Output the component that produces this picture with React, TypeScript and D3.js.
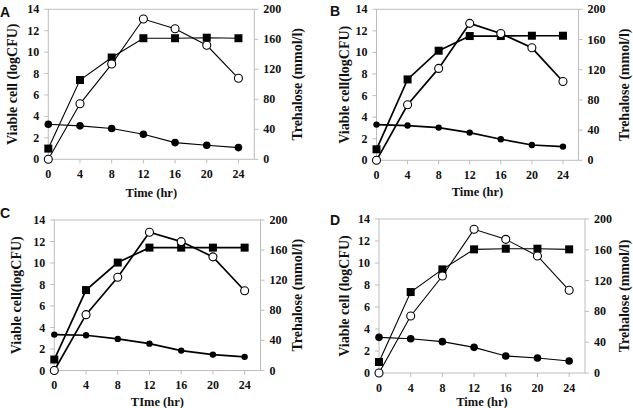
import React from "react";
import * as d3 from "d3";

// Sampling times (hr)
const hours = [0, 4, 8, 12, 16, 20, 24];
const xTicks = [0, 4, 8, 12, 16, 20, 24];
const leftTicks = [0, 2, 4, 6, 8, 10, 12, 14];
const rightTicks = [0, 40, 80, 120, 160, 200];

// Panel A
const viableA = [1.0, 7.4, 9.5, 11.3, 11.3, 11.35, 11.3];
const trehaloseA = [0, 74, 127, 187, 174, 152, 108];
const secondA = [3.27, 3.12, 2.87, 2.34, 1.56, 1.31, 1.09];

// Panel B
const viableB = [1.02, 7.5, 10.16, 11.52, 11.52, 11.55, 11.55];
const trehaloseB = [0, 73.5, 121.7, 181.4, 168, 149, 104.4];
const secondB = [3.31, 3.22, 3.03, 2.57, 1.95, 1.42, 1.27];

// Panel C
const viableC = [1.02, 7.48, 10.04, 11.43, 11.43, 11.43, 11.43];
const trehaloseC = [0, 74.2, 124, 183.7, 171.3, 151, 106];
const secondC = [3.34, 3.28, 2.94, 2.5, 1.85, 1.48, 1.27];

// Panel D
const viableD = [1.0, 7.36, 9.42, 11.24, 11.3, 11.3, 11.24];
const trehaloseD = [0, 74, 126, 186.6, 173.6, 152, 107.4];
const secondD = [3.24, 3.12, 2.85, 2.33, 1.55, 1.36, 1.09];

type PanelDef = {
  letter: string;
  box: { left: number; right: number; top: number; bottom: number };
  letterPos: [number, number];
  leftTitle: string;
  leftTitleX: number;
  rightTitleX: number;
  xTitle: string;
  xTitleY: number;
  viable: number[];
  trehalose: number[];
  second: number[];
  lineWidth: number;
  dot: number;
};

const panels: PanelDef[] = [
  {
    letter: "A",
    box: { left: 48.3, right: 254.3, top: 9.3, bottom: 159.3 },
    letterPos: [0, 17],
    leftTitle: "Viable cell (logCFU)",
    leftTitleX: 17,
    rightTitleX: 302,
    xTitle: "Time (hr)",
    xTitleY: 197,
    viable: viableA,
    trehalose: trehaloseA,
    second: secondA,
    lineWidth: 1.1,
    dot: 3.8,
  },
  {
    letter: "B",
    box: { left: 376.5, right: 578.5, top: 9.3, bottom: 160.3 },
    letterPos: [330, 16],
    leftTitle: "Viable cell(logCFU)",
    leftTitleX: 349,
    rightTitleX: 629,
    xTitle: "Time (hr)",
    xTitleY: 196,
    viable: viableB,
    trehalose: trehaloseB,
    second: secondB,
    lineWidth: 1.7,
    dot: 3.2,
  },
  {
    letter: "C",
    box: { left: 54.3, right: 260.5, top: 220, bottom: 370.5 },
    letterPos: [0, 218],
    leftTitle: "Viable cell(logCFU)",
    leftTitleX: 21,
    rightTitleX: 302,
    xTitle: "TIme (hr)",
    xTitleY: 406,
    viable: viableC,
    trehalose: trehaloseC,
    second: secondC,
    lineWidth: 1.7,
    dot: 3.2,
  },
  {
    letter: "D",
    box: { left: 379, right: 585, top: 219, bottom: 373 },
    letterPos: [330, 225],
    leftTitle: "Viable cell (logCFU)",
    leftTitleX: 349,
    rightTitleX: 629,
    xTitle: "Time (hr)",
    xTitleY: 406,
    viable: viableD,
    trehalose: trehaloseD,
    second: secondD,
    lineWidth: 1.1,
    dot: 3.8,
  },
];

const serifStyle = { fontFamily: "Liberation Serif, Times New Roman, Times, DejaVu Serif, serif" };
const sansStyle = { fontFamily: "Liberation Sans, Arial, Helvetica, sans-serif" };
const axisGrey = "#bdbdbd";

function Panel({ p }: { p: PanelDef }) {
  const { left, right, top, bottom } = p.box;
  const x = d3.scaleLinear().domain([0, 26]).range([left, right]);
  const yL = d3.scaleLinear().domain([0, 14]).range([bottom, top]);
  const yR = d3.scaleLinear().domain([0, 200]).range([bottom, top]);

  const lineL = d3
    .line<number>()
    .x((_, i) => x(hours[i]))
    .y((v) => yL(v));
  const lineR = d3
    .line<number>()
    .x((_, i) => x(hours[i]))
    .y((v) => yR(v));

  const midY = (top + bottom) / 2;
  const sq = 8;

  return (
    <g>
      {/* plot frame */}
      <rect
        x={left}
        y={top}
        width={right - left}
        height={bottom - top}
        fill="none"
        stroke={axisGrey}
        strokeWidth={1}
      />
      {/* x ticks */}
      {xTicks.map((t) => (
        <g key={"x" + t}>
          <line x1={x(t)} x2={x(t)} y1={bottom} y2={bottom + 4} stroke={axisGrey} />
          <text
            x={x(t)}
            y={bottom + 18.5}
            textAnchor="middle"
            style={serifStyle}
            fontWeight="bold"
            fontSize={12}
            fill="#111"
          >
            {t}
          </text>
        </g>
      ))}
      {/* left ticks */}
      {leftTicks.map((t) => (
        <g key={"l" + t}>
          <line x1={left - 4} x2={left} y1={yL(t)} y2={yL(t)} stroke={axisGrey} />
          <text
            x={left - 9}
            y={yL(t) + 4}
            textAnchor="end"
            style={serifStyle}
            fontWeight="bold"
            fontSize={12}
            fill="#111"
          >
            {t}
          </text>
        </g>
      ))}
      {/* right ticks */}
      {rightTicks.map((t) => (
        <g key={"r" + t}>
          <line x1={right} x2={right + 4} y1={yR(t)} y2={yR(t)} stroke={axisGrey} />
          <text
            x={right + 9}
            y={yR(t) + 4}
            textAnchor="start"
            style={serifStyle}
            fontWeight="bold"
            fontSize={12}
            fill="#111"
          >
            {t}
          </text>
        </g>
      ))}
      {/* axis titles */}
      <text
        transform={`translate(${p.leftTitleX},${midY}) rotate(-90)`}
        textAnchor="middle"
        style={serifStyle}
        fontWeight="bold"
        fontSize={14}
        fill="#111"
      >
        {p.leftTitle}
      </text>
      <text
        transform={`translate(${p.rightTitleX},${midY}) rotate(-90)`}
        textAnchor="middle"
        style={serifStyle}
        fontWeight="bold"
        fontSize={14}
        fill="#111"
      >
        Trehalose (mmol/l)
      </text>
      <text
        x={(left + right) / 2}
        y={p.xTitleY}
        textAnchor="middle"
        style={serifStyle}
        fontWeight="bold"
        fontSize={12.5}
        fill="#111"
      >
        {p.xTitle}
      </text>
      <text
        x={p.letterPos[0]}
        y={p.letterPos[1]}
        style={sansStyle}
        fontWeight="bold"
        fontSize={14}
        fill="#111"
      >
        {p.letter}
      </text>

      {/* filled-circle series */}
      <path d={lineL(p.second) ?? ""} fill="none" stroke="#000" strokeWidth={p.lineWidth} />
      {p.second.map((v, i) => (
        <circle key={"s" + i} cx={x(hours[i])} cy={yL(v)} r={p.dot} fill="#000" />
      ))}

      {/* viable cell series */}
      <path d={lineL(p.viable) ?? ""} fill="none" stroke="#000" strokeWidth={p.lineWidth} />
      {p.viable.map((v, i) => (
        <rect
          key={"v" + i}
          x={x(hours[i]) - sq / 2}
          y={yL(v) - sq / 2}
          width={sq}
          height={sq}
          fill="#000"
        />
      ))}

      {/* trehalose series */}
      <path d={lineR(p.trehalose) ?? ""} fill="none" stroke="#000" strokeWidth={p.lineWidth} />
      {p.trehalose.map((v, i) => (
        <circle
          key={"t" + i}
          cx={x(hours[i])}
          cy={yR(v)}
          r={4}
          fill="#fff"
          stroke="#000"
          strokeWidth={1.1}
        />
      ))}
    </g>
  );
}

export default function App() {
  return (
    <svg
      width={633}
      height={408}
      style={{ position: "absolute", left: 0, top: 0, background: "#fff" }}
    >
      <rect width={633} height={408} fill="#fff" />
      {panels.map((p) => (
        <Panel key={p.letter} p={p} />
      ))}
    </svg>
  );
}
